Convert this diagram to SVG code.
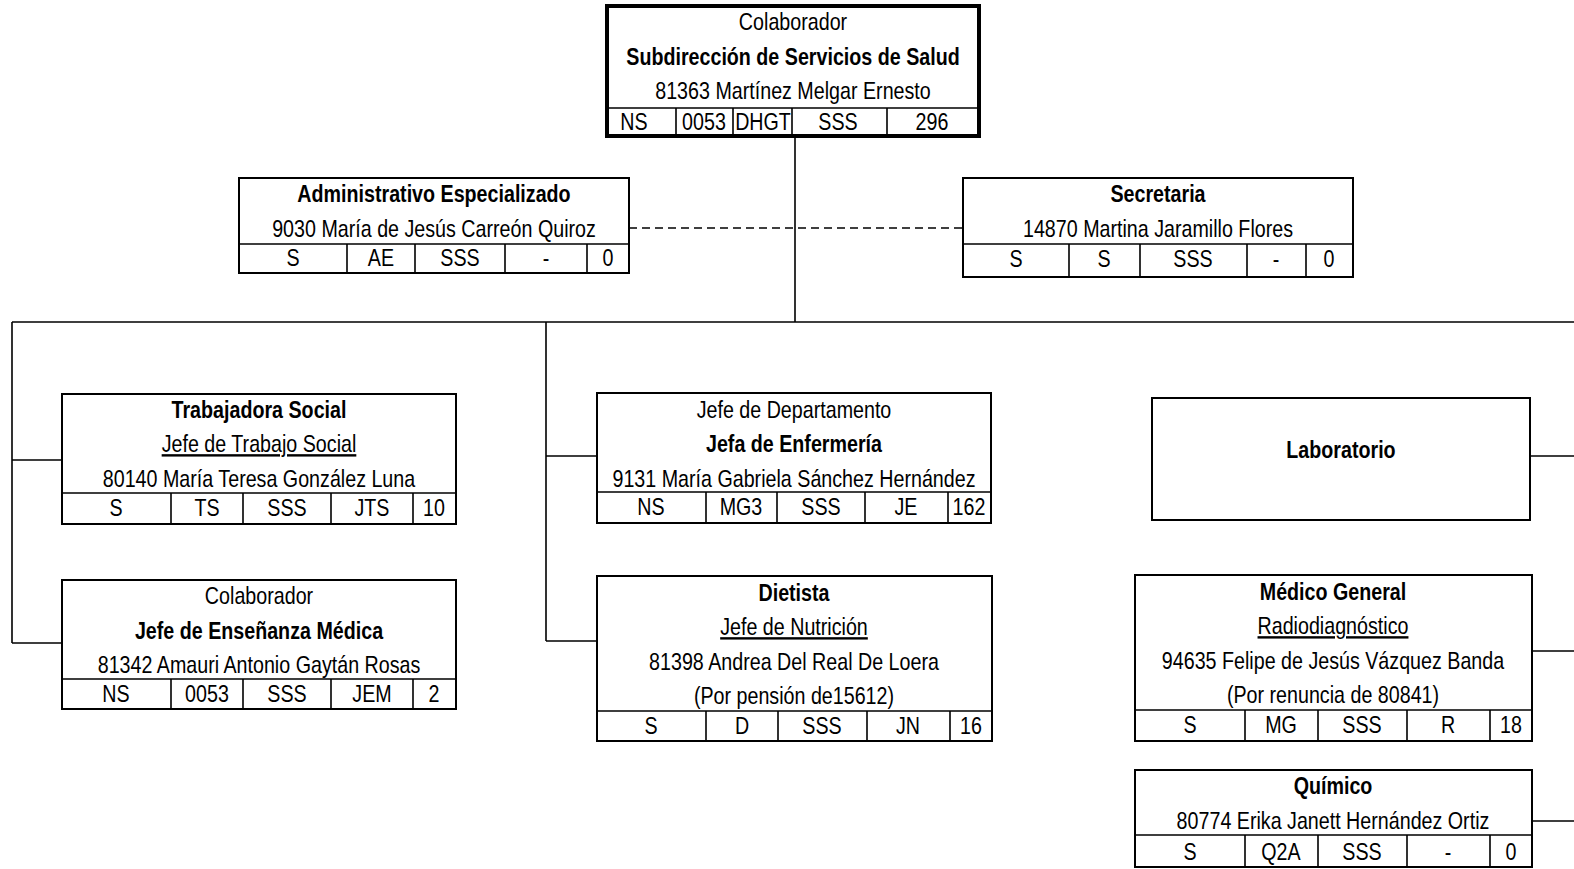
<svg xmlns="http://www.w3.org/2000/svg" width="1574" height="869" viewBox="0 0 1574 869">
<style>
.bg{fill:#fff}
.box{fill:#fff;stroke:#000;stroke-width:2}
.thick{fill:#fff;stroke:#000;stroke-width:4}
.ln{stroke:#000;stroke-width:1.6;fill:none}
.cl{stroke:#000;stroke-width:1.6;fill:none}
.dash{stroke:#000;stroke-width:1.4;stroke-dasharray:8,5;fill:none}
text{font-family:"Liberation Sans",Arial,sans-serif;font-size:24px;text-anchor:middle;fill:#000}
.b{font-weight:bold}
.u{text-decoration:underline}
</style>
<rect class="bg" x="0" y="0" width="1574" height="869"/>
<g id="connectors">
<path class="ln" d="M795,136 V322 M12,322 H1574 M12,322 V643 M12,460 H62 M12,643 H62 M546,322 V641 M546,456 H597 M546,641 H597 M1530,456 H1574 M1532,651 H1574 M1532,821 H1574"/>
<path class="dash" d="M629,228 H963"/>
</g>
<g id="subdireccion">
<rect class="thick" x="607" y="6" width="372" height="130"/>
<path class="cl" d="M607,108 H979 M676,108 V136 M733,108 V136 M792,108 V136 M887,108 V136"/>
<g transform="scale(0.82,1)">
<text x="967.07" y="30">Colaborador</text>
<text class="b" x="967.07" y="65">Subdirección de Servicios de Salud</text>
<text x="967.07" y="99">81363 Martínez Melgar Ernesto</text>
<text x="773.17" y="130">NS</text>
<text x="858.54" y="130">0053</text>
<text x="930.49" y="130">DHGT</text>
<text x="1021.95" y="130">SSS</text>
<text x="1136.59" y="130">296</text>
</g>
</g>
<g id="administrativo">
<rect class="box" x="239" y="178" width="390" height="95"/>
<path class="cl" d="M239,244 H629 M347,244 V273 M415,244 V273 M505,244 V273 M587,244 V273"/>
<g transform="scale(0.82,1)">
<text class="b" x="529.27" y="202">Administrativo Especializado</text>
<text x="529.27" y="237">9030 María de Jesús Carreón Quiroz</text>
<text x="357.32" y="266">S</text>
<text x="464.63" y="266">AE</text>
<text x="560.98" y="266">SSS</text>
<text x="665.85" y="266">-</text>
<text x="741.46" y="266">0</text>
</g>
</g>
<g id="secretaria">
<rect class="box" x="963" y="178" width="390" height="99"/>
<path class="cl" d="M963,244 H1353 M1069,244 V277 M1140,244 V277 M1247,244 V277 M1306,244 V277"/>
<g transform="scale(0.82,1)">
<text class="b" x="1412.20" y="202">Secretaria</text>
<text x="1412.20" y="237">14870 Martina Jaramillo Flores</text>
<text x="1239.02" y="267">S</text>
<text x="1346.34" y="267">S</text>
<text x="1454.88" y="267">SSS</text>
<text x="1556.10" y="267">-</text>
<text x="1620.73" y="267">0</text>
</g>
</g>
<g id="trabajadora">
<rect class="box" x="62" y="394" width="394" height="130"/>
<path class="cl" d="M62,493 H456 M171,493 V524 M243,493 V524 M331,493 V524 M413,493 V524"/>
<g transform="scale(0.82,1)">
<text class="b" x="315.85" y="418">Trabajadora Social</text>
<text class="u" x="315.85" y="452">Jefe de Trabajo Social</text>
<text x="315.85" y="487">80140 María Teresa González Luna</text>
<text x="141.46" y="516">S</text>
<text x="252.44" y="516">TS</text>
<text x="350.00" y="516">SSS</text>
<text x="453.66" y="516">JTS</text>
<text x="529.27" y="516">10</text>
</g>
</g>
<g id="ensenanza">
<rect class="box" x="62" y="580" width="394" height="129"/>
<path class="cl" d="M62,679 H456 M171,679 V709 M243,679 V709 M331,679 V709 M413,679 V709"/>
<g transform="scale(0.82,1)">
<text x="315.85" y="604">Colaborador</text>
<text class="b" x="315.85" y="639">Jefe de Enseñanza Médica</text>
<text x="315.85" y="673">81342 Amauri Antonio Gaytán Rosas</text>
<text x="141.46" y="702">NS</text>
<text x="252.44" y="702">0053</text>
<text x="350.00" y="702">SSS</text>
<text x="453.66" y="702">JEM</text>
<text x="529.27" y="702">2</text>
</g>
</g>
<g id="enfermeria">
<rect class="box" x="597" y="393" width="394" height="130"/>
<path class="cl" d="M597,492 H991 M706,492 V523 M777,492 V523 M865,492 V523 M948,492 V523"/>
<g transform="scale(0.82,1)">
<text x="968.29" y="418">Jefe de Departamento</text>
<text class="b" x="968.29" y="452">Jefa de Enfermería</text>
<text x="968.29" y="487">9131 María Gabriela Sánchez Hernández</text>
<text x="793.90" y="515">NS</text>
<text x="903.66" y="515">MG3</text>
<text x="1001.22" y="515">SSS</text>
<text x="1104.88" y="515">JE</text>
<text x="1181.71" y="515">162</text>
</g>
</g>
<g id="dietista">
<rect class="box" x="597" y="576" width="395" height="165"/>
<path class="cl" d="M597,711 H992 M706,711 V741 M778,711 V741 M867,711 V741 M950,711 V741"/>
<g transform="scale(0.82,1)">
<text class="b" x="968.29" y="601">Dietista</text>
<text class="u" x="968.29" y="635">Jefe de Nutrición</text>
<text x="968.29" y="670">81398 Andrea Del Real De Loera</text>
<text x="968.29" y="704">(Por pensión de15612)</text>
<text x="793.90" y="734">S</text>
<text x="904.88" y="734">D</text>
<text x="1002.44" y="734">SSS</text>
<text x="1107.32" y="734">JN</text>
<text x="1184.15" y="734">16</text>
</g>
</g>
<g id="laboratorio">
<rect class="box" x="1152" y="398" width="378" height="122"/>
<g transform="scale(0.82,1)">
<text class="b" x="1635.37" y="458">Laboratorio</text>
</g>
</g>
<g id="medico">
<rect class="box" x="1135" y="575" width="397" height="166"/>
<path class="cl" d="M1135,710 H1532 M1245,710 V741 M1318,710 V741 M1407,710 V741 M1490,710 V741"/>
<g transform="scale(0.82,1)">
<text class="b" x="1625.61" y="600">Médico General</text>
<text class="u" x="1625.61" y="634">Radiodiagnóstico</text>
<text x="1625.61" y="669">94635 Felipe de Jesús Vázquez Banda</text>
<text x="1625.61" y="703">(Por renuncia de 80841)</text>
<text x="1451.22" y="733">S</text>
<text x="1562.20" y="733">MG</text>
<text x="1660.98" y="733">SSS</text>
<text x="1765.85" y="733">R</text>
<text x="1842.68" y="733">18</text>
</g>
</g>
<g id="quimico">
<rect class="box" x="1135" y="770" width="397" height="97"/>
<path class="cl" d="M1135,835 H1532 M1245,835 V867 M1318,835 V867 M1407,835 V867 M1490,835 V867"/>
<g transform="scale(0.82,1)">
<text class="b" x="1625.61" y="794">Químico</text>
<text x="1625.61" y="829">80774 Erika Janett Hernández Ortiz</text>
<text x="1451.22" y="860">S</text>
<text x="1562.20" y="860">Q2A</text>
<text x="1660.98" y="860">SSS</text>
<text x="1765.85" y="860">-</text>
<text x="1842.68" y="860">0</text>
</g>
</g>
</svg>
